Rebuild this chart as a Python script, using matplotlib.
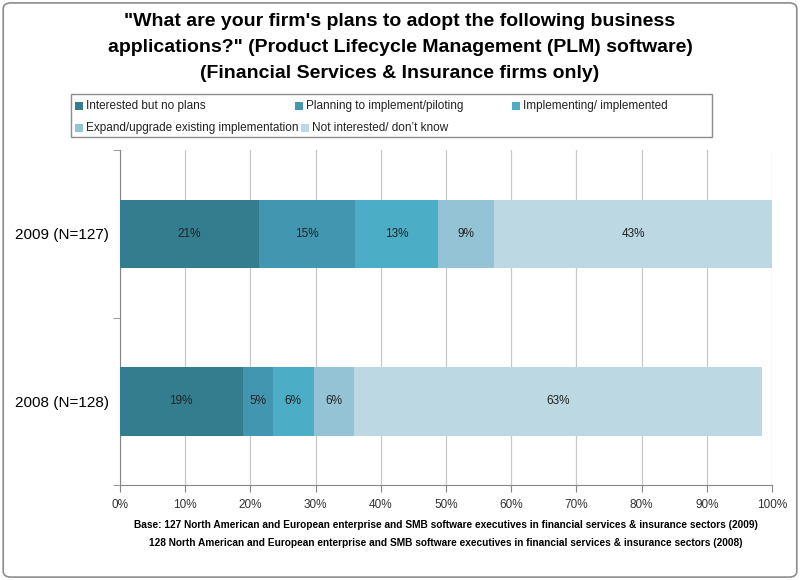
import matplotlib.pyplot as plt
from matplotlib.patches import FancyBboxPatch, Rectangle

plt.rcParams['font.family'] = ['Liberation Sans Narrow', 'Liberation Sans', 'DejaVu Sans']

# Daten
years = ["2008 (N=128)", "2009 (N=127)"]
series = [
    "Interested but no plans",
    "Planning to implement/piloting",
    "Implementing/ implemented",
    "Expand/upgrade existing implementation",
    "Not interested/ don\u2019t know",
]
vals_2008 = [18.8, 4.6, 6.3, 6.2, 62.6]
vals_2009 = [21.3, 14.8, 12.6, 8.7, 42.6]
colors = ["#347D8F", "#4396B0", "#4BADC6", "#93C3D5", "#BCD8E3"]
ticks = [0, 10, 20, 30, 40, 50, 60, 70, 80, 90, 100]
title_lines = [
    "\"What are your firm's plans to adopt the following business",
    "applications?\" (Product Lifecycle Management (PLM) software)",
    "(Financial Services & Insurance firms only)",
]
foot_lines = [
    "Base: 127 North American and European enterprise and SMB software executives in financial services & insurance sectors (2009)",
    "128 North American and European enterprise and SMB software executives in financial services & insurance sectors (2008)",
]

W, H = 800, 580
fig = plt.figure(figsize=(8, 5.8), dpi=100)
fig.patch.set_facecolor('white')

def fx(px):
    return px / W

def fy(py):
    return 1 - py / H

# Rahmen um die ganze Grafik
border = FancyBboxPatch((0.004, 0.005), 0.992, 0.99, boxstyle="round,pad=0,rounding_size=0.01",
                        transform=fig.transFigure, facecolor='none', edgecolor='#8C8C8C', linewidth=1.2)
fig.patches.append(border)

ax = fig.add_axes([0.15, 0.164, 0.815, 0.577])

data = [vals_2008, vals_2009]
for i, vals in enumerate(data):
    left = 0
    for j, v in enumerate(vals):
        ax.barh(i, v, left=left, height=0.41, color=colors[j], edgecolor='none', zorder=3)
        ax.text(left + v / 2, i, f"{v:.0f}%", ha='center', va='center', fontsize=8.5, color='#222222', zorder=4)
        left += v

ax.set_xlim(0, 100)
ax.set_ylim(-0.5, 1.5)
ax.set_xticks(ticks)
ax.set_xticklabels([f"{t}%" for t in ticks], fontsize=8.5, color='#333333')
ax.set_yticks([0, 1])
ax.set_yticklabels(years, fontsize=11)
ax.set_yticks([-0.5, 0.5, 1.5], minor=True)
ax.tick_params(axis='y', which='major', length=0, pad=8)
ax.tick_params(axis='y', which='minor', length=5, color='#868686')
ax.tick_params(axis='x', length=5, color='#868686', pad=5)
ax.xaxis.grid(True, color='#C8C8C8', linewidth=0.9, zorder=0)
for s in ['top', 'right']:
    ax.spines[s].set_visible(False)
ax.spines['left'].set_color('#868686')
ax.spines['bottom'].set_color('#868686')

# Legende manuell (Fließlayout wie im Original)
fig.patches.append(Rectangle((fx(71), fy(137)), fx(712) - fx(71), fy(94) - fy(137),
                             transform=fig.transFigure, facecolor='white', edgecolor='#8C8C8C', linewidth=1.0))
legend_pos = [(75, 106), (295, 106), (512, 106), (75, 128), (301, 128)]
for (px, py), lab, c in zip(legend_pos, series, colors):
    fig.patches.append(Rectangle((fx(px), fy(py + 4)), fx(8), 8 / H,
                                 transform=fig.transFigure, facecolor=c, edgecolor='none'))
    fig.text(fx(px + 11), fy(py), lab, ha='left', va='center', fontsize=8.5, color='#222222')

# Titel zeilenweise
for k, line in enumerate(title_lines):
    fig.text(0.5, fy(22 + 25.5 * k), line, ha='center', va='center', fontsize=14, fontweight='bold')

# Fußnote
for k, line in enumerate(foot_lines):
    fig.text(fx(446), fy(525 + 18 * k), line, ha='center', va='center', fontsize=7.3, fontweight='bold')

plt.savefig("out.png", dpi=100)
plt.close()
